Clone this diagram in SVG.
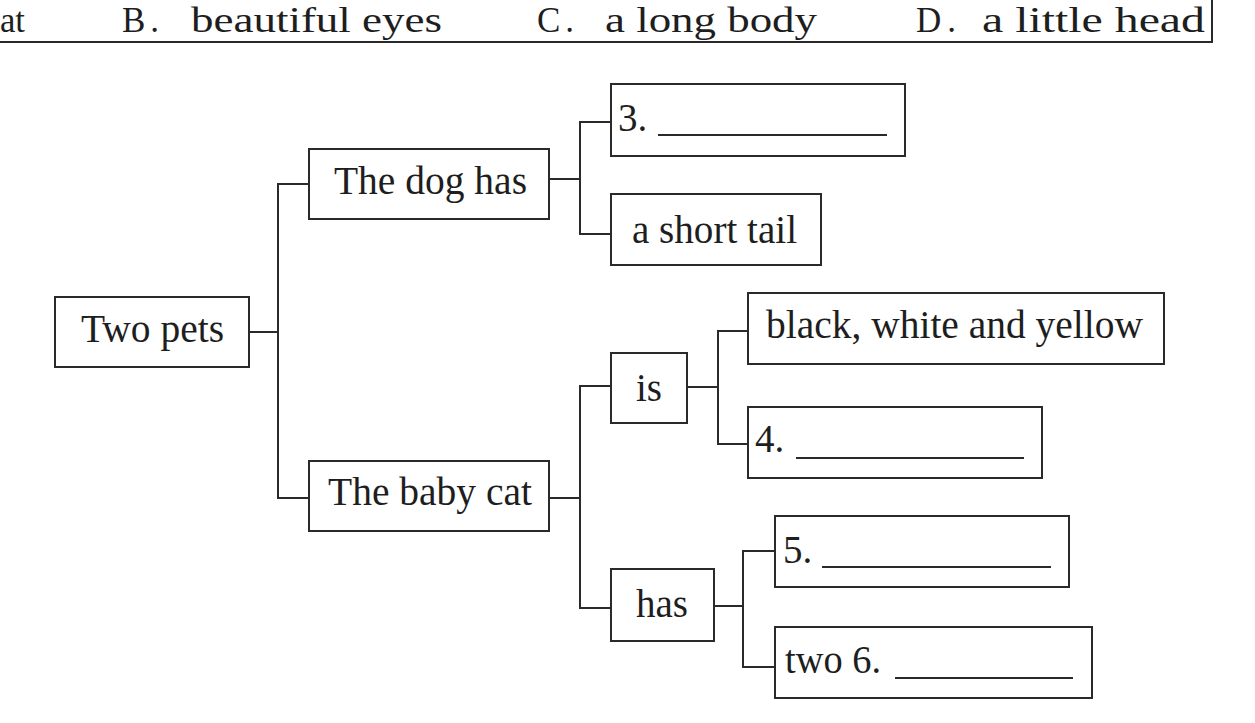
<svg xmlns="http://www.w3.org/2000/svg" width="1255" height="723" viewBox="0 0 1255 723">
<style>
  .box { fill: #fff; stroke: #2a2a2a; stroke-width: 2; }
  .ln { fill: none; stroke: #2a2a2a; stroke-width: 2; }
  .t { font-family: "Liberation Serif", "Times New Roman", serif; font-size: 39px; fill: #1e1e1e; }
  .top { font-family: "Liberation Serif", "Times New Roman", serif; font-size: 35px; fill: #1e1e1e; }
</style>
<rect width="1255" height="723" fill="#fff"/>
<g id="options">
  <text class="top" x="0" y="32" textLength="25" lengthAdjust="spacingAndGlyphs">at</text>
  <text class="top" x="122" y="32" textLength="37" lengthAdjust="spacing">B.</text>
  <text class="top" x="191" y="32" textLength="251" lengthAdjust="spacingAndGlyphs">beautiful eyes</text>
  <text class="top" x="537" y="32" textLength="37" lengthAdjust="spacing">C.</text>
  <text class="top" x="605" y="32" textLength="212" lengthAdjust="spacingAndGlyphs">a long body</text>
  <text class="top" x="916" y="32" textLength="40" lengthAdjust="spacing">D.</text>
  <text class="top" x="982" y="32" textLength="223" lengthAdjust="spacingAndGlyphs">a little head</text>
  <polyline class="ln" points="0,42 1212,42 1212,0"/>
</g>
<g id="connectors">
  <polyline class="ln" points="249,332 278,332"/>
  <polyline class="ln" points="309,184 278,184 278,498 309,498"/>
  <polyline class="ln" points="549,179 580,179"/>
  <polyline class="ln" points="611,122 580,122 580,234 611,234"/>
  <polyline class="ln" points="549,498 580,498"/>
  <polyline class="ln" points="611,386 580,386 580,608 611,608"/>
  <polyline class="ln" points="687,387 718,387"/>
  <polyline class="ln" points="748,331 718,331 718,444 748,444"/>
  <polyline class="ln" points="714,606 743,606"/>
  <polyline class="ln" points="775,551 743,551 743,667 775,667"/>
</g>
<g id="n-two-pets">
  <rect class="box" x="55" y="297" width="194" height="70"/>
  <text class="t" x="81" y="342" textLength="143" lengthAdjust="spacingAndGlyphs">Two pets</text>
</g>
<g id="n-dog-has">
  <rect class="box" x="309" y="149" width="240" height="70"/>
  <text class="t" x="334" y="194" textLength="193" lengthAdjust="spacingAndGlyphs">The dog has</text>
</g>
<g id="n-3">
  <rect class="box" x="611" y="84" width="294" height="72"/>
  <text class="t" x="618" y="131">3.</text>
  <line class="ln" x1="658" y1="135" x2="887" y2="135"/>
</g>
<g id="n-short-tail">
  <rect class="box" x="611" y="194" width="210" height="71"/>
  <text class="t" x="632" y="243" textLength="165" lengthAdjust="spacingAndGlyphs">a short tail</text>
</g>
<g id="n-baby-cat">
  <rect class="box" x="309" y="461" width="240" height="70"/>
  <text class="t" x="328" y="505" textLength="204" lengthAdjust="spacingAndGlyphs">The baby cat</text>
</g>
<g id="n-is">
  <rect class="box" x="611" y="353" width="76" height="70"/>
  <text class="t" x="636" y="401" textLength="26" lengthAdjust="spacingAndGlyphs">is</text>
</g>
<g id="n-has">
  <rect class="box" x="611" y="569" width="103" height="72"/>
  <text class="t" x="636" y="617" textLength="52" lengthAdjust="spacingAndGlyphs">has</text>
</g>
<g id="n-colors">
  <rect class="box" x="748" y="293" width="416" height="71"/>
  <text class="t" x="766" y="338" textLength="377" lengthAdjust="spacingAndGlyphs">black, white and yellow</text>
</g>
<g id="n-4">
  <rect class="box" x="748" y="407" width="294" height="71"/>
  <text class="t" x="755" y="452">4.</text>
  <line class="ln" x1="796" y1="458" x2="1024" y2="458"/>
</g>
<g id="n-5">
  <rect class="box" x="775" y="516" width="294" height="71"/>
  <text class="t" x="783" y="563">5.</text>
  <line class="ln" x1="822" y1="567" x2="1051" y2="567"/>
</g>
<g id="n-6">
  <rect class="box" x="775" y="627" width="317" height="71"/>
  <text class="t" x="785" y="673" textLength="96" lengthAdjust="spacingAndGlyphs">two 6.</text>
  <line class="ln" x1="895" y1="678" x2="1073" y2="678"/>
</g>
</svg>
